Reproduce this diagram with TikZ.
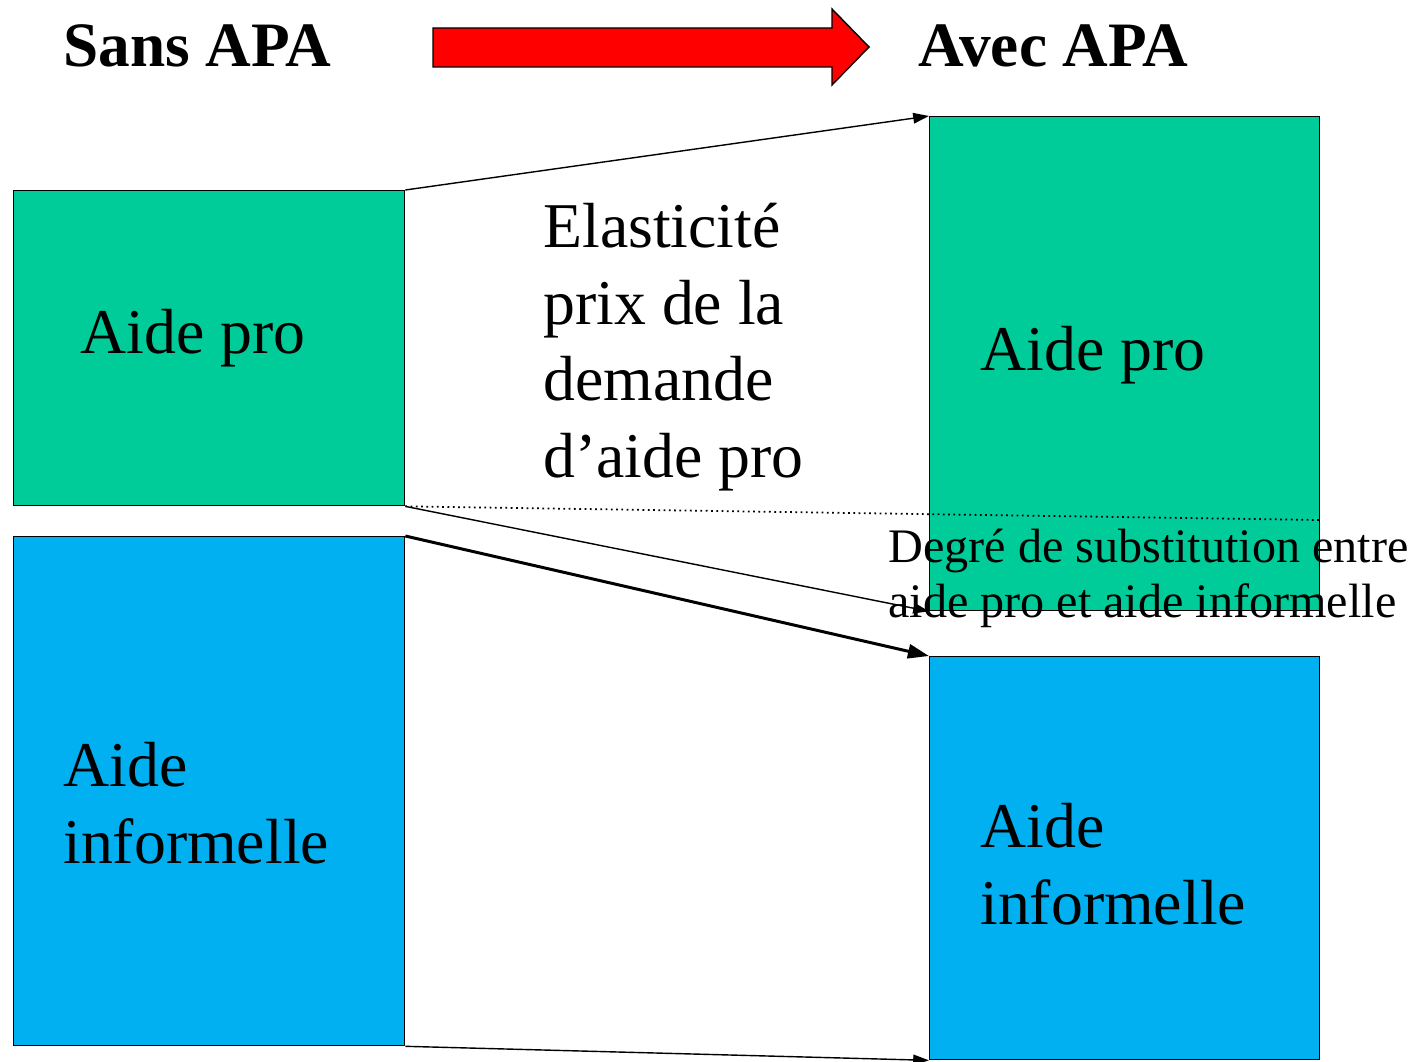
\documentclass[tikz,border=0pt]{standalone}
\usepackage{fontspec}
\setmainfont{Liberation Serif}
\usetikzlibrary{arrows.meta}
\definecolor{progreen}{RGB}{0,204,153}
\definecolor{infblue}{RGB}{0,176,240}
\tikzset{
    blockbox/.style={draw, line width=0.8pt, inner sep=0pt, anchor=north west},
    bigtext/.style={inner sep=0pt, anchor=base west, align=left, font=\fontsize{36.3}{43.5}\selectfont},
    flowline/.style={line width=0.8pt, -{Triangle[length=9pt,width=6pt]}}
}
\begin{document}
\begin{tikzpicture}[x=0.02cm, y=-0.02cm]%
        \useasboundingbox (0,0) rectangle (1412,1061);
        % titles and the red arrow
        \node[bigtext, font=\fontsize{36}{40}\bfseries] (sans) at (63,67) {Sans APA};
        \node[bigtext, font=\fontsize{36}{40}\bfseries] (avec) at (918,67) {Avec APA};
        \draw [line width=0.8pt, fill=red] (433,28) -- (832,28) -- (832,9) -- (869,47) -- (832,85) -- (832,67) -- (433,67) -- cycle;
        % boxes
        \node[blockbox, fill=progreen, minimum width=7.82cm, minimum height=6.3cm] (pl) at (13,190) {};
        \node[blockbox, fill=infblue, minimum width=7.82cm, minimum height=10.18cm] (il) at (13,536) {};
        \node[blockbox, fill=progreen, minimum width=7.8cm, minimum height=9.88cm] (pr) at (929,116) {};
        \node[blockbox, fill=infblue, minimum width=7.8cm, minimum height=8.06cm] (ir) at (929,656) {};
        \coordinate (dotend) at (1319,520);
        % connectors
        \draw [flowline] (pl.north east) -- (pr.north west);
        \draw [flowline] (pl.south east) -- (pr.south west);
        \draw [flowline, line width=1.7pt, -{Triangle[length=12pt,width=8pt]}] (il.north east) -- (ir.north west);
        \draw [flowline] (il.south east) -- (ir.south west);
        \draw [dotted, line width=1pt] (pl.south east) -- (dotend);
        % texts (base = last line)
        \node[bigtext] (plt) at (80,353) {Aide pro};
        \node[bigtext] (prt) at (980,370) {Aide pro};
        \node[bigtext] (ilt) at (63,863) {Aide\\informelle};
        \node[bigtext] (irt) at (980,924) {Aide\\informelle};
        \node[bigtext] (elast) at (543,477) {Elasticité\\prix de la\\demande\\d’aide pro};
        \node[bigtext, font=\fontsize{27.4}{31}\selectfont] (subst) at (888,617) {Degré de substitution entre\\aide pro et aide informelle};
    \end{tikzpicture}
\end{document}
